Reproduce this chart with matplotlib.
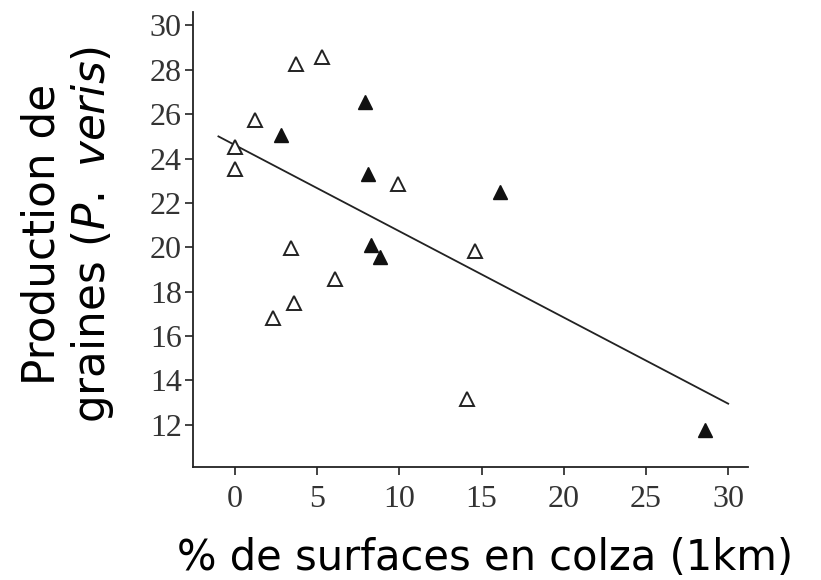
import matplotlib.pyplot as plt
import numpy as np

# open triangles
open_x = [0.0, 0.0, 1.2, 3.7, 5.3, 9.9, 3.4, 6.1, 3.6, 2.3, 14.6, 14.1]
open_y = [24.5, 23.55, 25.75, 28.25, 28.6, 22.85, 19.95, 18.55, 17.5, 16.8, 19.85, 13.15]

# filled triangles
fill_x = [2.8, 7.9, 8.1, 16.1, 8.3, 8.8, 28.6]
fill_y = [25.05, 26.55, 23.3, 22.5, 20.1, 19.55, 11.75]

# regression line end points
line_x = [-1.0, 30.0]
line_y = [25.0, 12.95]

x_ticks = [0, 5, 10, 15, 20, 25, 30]
y_ticks = [12, 14, 16, 18, 20, 22, 24, 26, 28, 30]

fig = plt.figure(figsize=(8.21, 5.8), dpi=100)
ax = fig.add_axes([0.235, 0.195, 0.676, 0.784])

ax.plot(line_x, line_y, color='#222222', linewidth=1.3)
ax.plot(open_x, open_y, linestyle='none', marker='^', markersize=10,
        markerfacecolor='white', markeredgecolor='#222222', markeredgewidth=1.4)
ax.plot(fill_x, fill_y, linestyle='none', marker='^', markersize=10,
        markerfacecolor='#111111', markeredgecolor='#111111', markeredgewidth=1.0)

ax.set_xlim(-2.55, 31.2)
ax.set_ylim(10.1, 30.6)
ax.set_xticks(x_ticks)
ax.set_yticks(y_ticks)

for side in ['top', 'right']:
    ax.spines[side].set_visible(False)
for side in ['left', 'bottom']:
    ax.spines[side].set_linewidth(1.3)
    ax.spines[side].set_color('#222222')

ax.tick_params(direction='out', length=6, width=1.2, color='#222222',
               labelsize=23, labelcolor='#333333')
ax.tick_params(axis='x', pad=7)
ax.tick_params(axis='y', pad=2)
for lab in ax.get_xticklabels() + ax.get_yticklabels():
    lab.set_fontfamily('Liberation Serif')

fig.text(485 / 821, 1 - 558 / 580, '% de surfaces en colza (1km)', fontsize=30,
         family='DejaVu Sans', ha='center', va='center')
fig.text(68 / 821, 1 - 234 / 580,
         'Production de\n' + r'graines ($\mathit{P.\ veris}$)', fontsize=31.5,
         family='DejaVu Sans', rotation=90, ha='center', va='center',
         multialignment='center', linespacing=1.15)

fig.savefig('out.png', dpi=100)
